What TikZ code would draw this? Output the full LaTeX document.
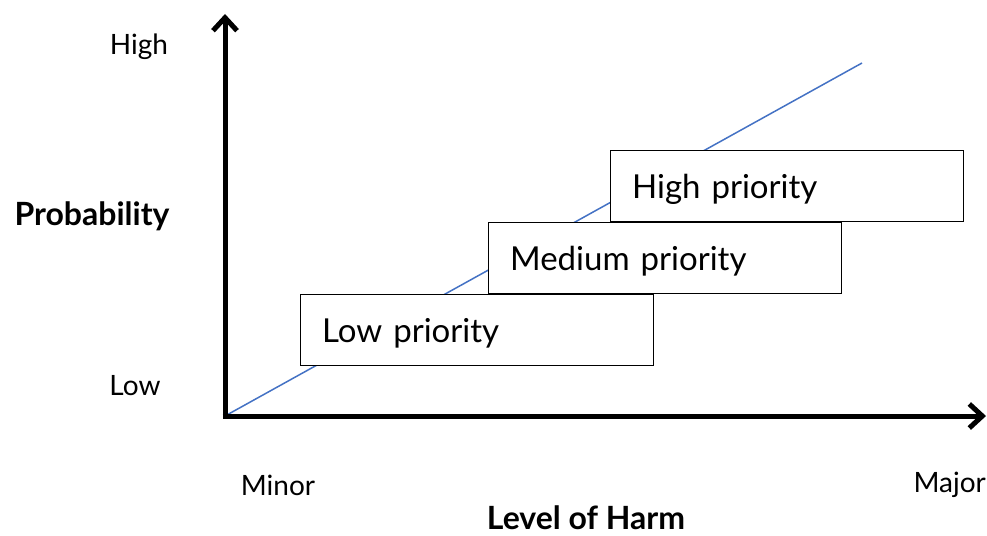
\documentclass[tikz,border=0pt]{standalone}
\usepackage{fontspec}
\setmainfont{Lato}
\usetikzlibrary{arrows.meta}
\definecolor{lineblue}{RGB}{68,114,196}
\tikzset{
  prio/.style={draw=black,fill=white,line width=1.2pt,minimum width=353pt,minimum height=71pt,
    text width=310pt,text height=31pt,text depth=7pt,align=left,inner xsep=20pt,
    anchor=north west,font=\fontsize{33}{38}\selectfont},
  lbl/.style={font=\fontsize{28}{32}\selectfont},
  blbl/.style={font=\fontsize{32}{36}\selectfont\bfseries},
  axis/.style={line width=5pt,-{Straight Barb[length=13pt,width=24pt,line width=5pt]}}
}
\begin{document}
\begin{tikzpicture}[x=1pt,y=-1pt]
\useasboundingbox (0,0) rectangle (987,535);
\coordinate (O) at (225,416);
\coordinate (ytop) at (225,14);
\coordinate (xend) at (986,416);
\coordinate (lineend) at (862,63);
\draw [lineblue, line width=1.5pt] (O)--(lineend);
\node[prio] (low) at (300,294) {Low priority};
\node[prio] (med) at (488,222) {Medium priority};
\node[prio] (high) at (610,150) {High priority};
\draw [axis] (O.center)--(ytop);
\draw [axis] ([xshift=-2.5pt]O.center)--(xend);

\node[lbl] (hi) at (139,47) {High};
\node[lbl] (lo) at (135,386) {Low};
\node[blbl] (prob) at (92,216) {Probability};
\node[lbl] (minor) at (278,485) {Minor};
\node[lbl,anchor=east,inner xsep=1pt] (major) at (987,485) {Major};
\node[blbl] (harm) at (586,518) {Level of Harm};
\end{tikzpicture}
\end{document}
